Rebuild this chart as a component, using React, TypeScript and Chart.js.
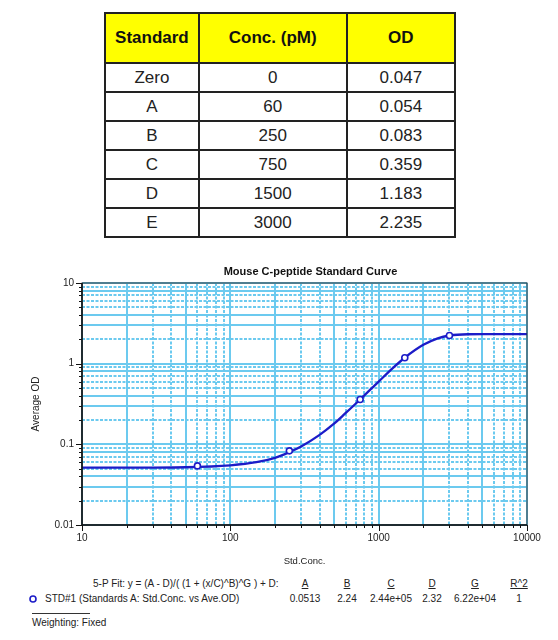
import React, { useEffect, useRef } from "react";
import { Chart, registerables } from "chart.js";

Chart.register(...registerables);

// ---------- Data ----------
const tableHeaders = ["Standard", "Conc. (pM)", "OD"];
const standards = ["Zero", "A", "B", "C", "D", "E"];
const concLabels = ["0", "60", "250", "750", "1500", "3000"];
const odLabels = ["0.047", "0.054", "0.083", "0.359", "1.183", "2.235"];
const concValues = [0, 60, 250, 750, 1500, 3000];
const odValues = [0.047, 0.054, 0.083, 0.359, 1.183, 2.235];

// fitted curve
const curveConc = [10, 20, 50, 100, 150, 200, 250, 300, 400, 500, 600, 750, 1000, 1250, 1500, 2000, 2500, 3000, 4000, 5000, 10000];
const curveOD = [0.0513, 0.0513, 0.052, 0.055, 0.06, 0.068, 0.08, 0.094, 0.131, 0.18, 0.245, 0.36, 0.6, 0.887, 1.185, 1.71, 2.06, 2.234, 2.315, 2.32, 2.32];

const xDecades = [10, 100, 1000];
const yDecades = [0.01, 0.1, 1];
const mantissas = [1, 2, 3, 4, 5, 6, 7, 8, 9];
const xMajorValues = [10, 100, 1000, 10000];
const xMajorLabels = ["10", "100", "1000", "10000"];
const yMajorValues = [0.01, 0.1, 1, 10];
const yMajorLabels = ["0.01", "0.1", "1", "10"];

const chartTitle = "Mouse C-peptide Standard Curve";
const xTitle = "Std.Conc.";
const yTitle = "Average OD";

const fitEquation = "5-P Fit: y = (A - D)/( (1 + (x/C)^B)^G ) + D:";
const fitSeriesName = "STD#1 (Standards A: Std.Conc. vs Ave.OD)";
const fitHeaders = ["A", "B", "C", "D", "G", "R^2"];
const fitValues = ["0.0513", "2.24", "2.44e+05", "2.32", "6.22e+04", "1"];
const weightingText = "Weighting: Fixed";

// ---------- Layout / style ----------
const FONT = '"Liberation Sans", Arial, Helvetica, sans-serif';
const GRID = "#6ccaef";
const CURVE = "#1c1cc8";
const fitColCenters = [305, 347, 391, 432, 475, 519];

const buildTicks = (decades: number[], last: number) => {
  const vals: number[] = [];
  decades.forEach((d) => mantissas.forEach((m) => vals.push(+(m * d).toPrecision(6))));
  vals.push(last);
  return vals;
};
const xTickValues = buildTicks(xDecades, 10000);
const yTickValues = buildTicks(yDecades, 10);

const mantissaOf = (v: number) => {
  const p = Math.pow(10, Math.floor(Math.log10(v) + 1e-9));
  return Math.round(v / p);
};
const isMajor = (v: number) => mantissaOf(v) === 1;

const xSolid = [1, 2, 5];
const ySolid = [1, 3, 4, 8];

const decorPlugin = {
  id: "decor",
  afterDraw(chart: any) {
    const { ctx, chartArea: a, scales } = chart;
    ctx.save();
    ctx.strokeStyle = "#111";
    ctx.lineWidth = 1;
    ctx.setLineDash([]);
    scales.x.ticks.forEach((t: any) => {
      const px = Math.round(scales.x.getPixelForValue(t.value)) + 0.5;
      const len = isMajor(t.value) ? 6 : 3;
      ctx.beginPath();
      ctx.moveTo(px, a.bottom);
      ctx.lineTo(px, a.bottom + len);
      ctx.stroke();
    });
    scales.y.ticks.forEach((t: any) => {
      const py = Math.round(scales.y.getPixelForValue(t.value)) + 0.5;
      const len = isMajor(t.value) ? 6 : 3;
      ctx.beginPath();
      ctx.moveTo(a.left - len, py);
      ctx.lineTo(a.left, py);
      ctx.stroke();
    });
    // frame
    ctx.strokeStyle = "#333";
    ctx.lineWidth = 1;
    ctx.strokeRect(a.left, a.top, a.right - a.left, a.bottom - a.top);
    ctx.strokeStyle = "#111";
    ctx.lineWidth = 1.5;
    ctx.beginPath();
    ctx.moveTo(a.left, a.top);
    ctx.lineTo(a.left, a.bottom);
    ctx.lineTo(a.right, a.bottom);
    ctx.stroke();
    // title
    ctx.font = `bold 11px ${FONT}`;
    ctx.fillStyle = "#111";
    ctx.textAlign = "center";
    ctx.textBaseline = "middle";
    ctx.fillText(chartTitle, (a.left + a.right) / 2 + 6, a.top - 11);
    ctx.restore();
  },
};

function StandardCurve() {
  const ref = useRef<HTMLCanvasElement | null>(null);
  useEffect(() => {
    if (!ref.current) return;
    const points = concValues
      .map((c, i) => ({ x: c, y: odValues[i] }))
      .filter((p) => p.x > 0);
    const curve = curveConc.map((c, i) => ({ x: c, y: curveOD[i] }));
    const chart = new Chart(ref.current, {
      type: "scatter",
      data: {
        datasets: [
          {
            label: "fit",
            data: curve,
            showLine: true,
            borderColor: CURVE,
            borderWidth: 2.3,
            pointRadius: 0,
            cubicInterpolationMode: "monotone",
            order: 2,
          } as any,
          {
            label: "STD#1",
            data: points,
            showLine: false,
            borderColor: CURVE,
            backgroundColor: "#ffffff",
            borderWidth: 1.6,
            pointRadius: 3,
            order: 1,
          },
        ],
      },
      options: {
        animation: false,
        responsive: false,
        layout: { padding: { left: 27, right: 31, top: 28, bottom: 0 } },
        plugins: {
          legend: { display: false },
          tooltip: { enabled: false },
          title: { display: false },
        },
        scales: {
          x: {
            type: "logarithmic",
            min: 10,
            max: 10000,
            afterBuildTicks: (s: any) => {
              s.ticks = xTickValues.map((v) => ({ value: v, major: isMajor(v) }));
            },
            afterFit: (s: any) => {
              s.height = 50;
            },
            ticks: {
              autoSkip: false,
              maxRotation: 0,
              padding: 7,
              color: "#222",
              font: { family: FONT, size: 10 },
              callback: (v: any) => {
                const i = xMajorValues.findIndex((m) => Math.abs(m - v) < 1e-9 * m);
                return i >= 0 ? xMajorLabels[i] : "";
              },
            },
            grid: { color: GRID, lineWidth: 2, drawTicks: false },
            border: {
              display: false,
              dash: (c: any) => (c.tick && !xSolid.includes(mantissaOf(c.tick.value)) ? [3, 1.5] : []),
            } as any,
            title: {
              display: true,
              text: xTitle,
              color: "#222",
              font: { family: FONT, size: 9.5 },
              padding: { top: 0, bottom: 8 },
            },
          },
          y: {
            type: "logarithmic",
            min: 0.01,
            max: 10,
            afterBuildTicks: (s: any) => {
              s.ticks = yTickValues.map((v) => ({ value: v, major: isMajor(v) }));
            },
            afterFit: (s: any) => {
              s.width = 55;
            },
            ticks: {
              autoSkip: false,
              padding: 8,
              color: "#222",
              font: { family: FONT, size: 10 },
              callback: (v: any) => {
                const i = yMajorValues.findIndex((m) => Math.abs(m - v) < 1e-6 * m);
                return i >= 0 ? yMajorLabels[i] : "";
              },
            },
            grid: { color: GRID, lineWidth: 2, drawTicks: false },
            border: {
              display: false,
              dash: (c: any) => (c.tick && !ySolid.includes(mantissaOf(c.tick.value)) ? [3, 1.5] : []),
            } as any,
            title: {
              display: true,
              text: yTitle,
              color: "#222",
              font: { family: FONT, size: 10 },
              padding: { top: 3, bottom: 0 },
            },
          },
        },
      } as any,
      plugins: [decorPlugin],
    });
    return () => chart.destroy();
  }, []);
  return <canvas ref={ref} width={558} height={320} style={{ display: "block" }} />;
}

export default function App() {
  const cell: React.CSSProperties = {
    border: "2px solid #222",
    textAlign: "center",
    padding: 0,
    height: 27,
  };
  const head: React.CSSProperties = {
    ...cell,
    background: "#ffff00",
    fontWeight: "bold",
    color: "#111",
    height: 48,
  };
  const txt: React.CSSProperties = {
    position: "absolute",
    fontFamily: FONT,
    fontSize: 10,
    lineHeight: "12px",
    color: "#222",
    whiteSpace: "nowrap",
  };
  return (
    <div style={{ position: "absolute", left: 0, top: 0, width: 558, height: 640, background: "#fff", overflow: "hidden" }}>
      <table
        style={{
          position: "absolute",
          left: 104,
          top: 12,
          width: 352,
          height: 225,
          borderCollapse: "collapse",
          fontFamily: FONT,
          fontSize: 17,
          color: "#222",
          border: "2.5px solid #111",
        }}
      >
        <colgroup>
          <col style={{ width: 94 }} />
          <col style={{ width: 149 }} />
          <col style={{ width: 109 }} />
        </colgroup>
        <thead>
          <tr>
            {tableHeaders.map((h) => (
              <th key={h} style={head}>
                {h}
              </th>
            ))}
          </tr>
        </thead>
        <tbody>
          {standards.map((s, i) => (
            <tr key={s}>
              <td style={cell}>{s}</td>
              <td style={cell}>{concLabels[i]}</td>
              <td style={cell}>{odLabels[i]}</td>
            </tr>
          ))}
        </tbody>
      </table>

      <div style={{ position: "absolute", left: 0, top: 255, width: 558, height: 320 }}>
        <StandardCurve />
      </div>

      <div style={{ ...txt, left: 93, top: 578 }}>{fitEquation}</div>
      {fitHeaders.map((h, i) => (
        <div
          key={h}
          style={{ ...txt, left: fitColCenters[i] - 30, width: 60, textAlign: "center", top: 578, textDecoration: "underline" }}
        >
          {h}
        </div>
      ))}
      <svg style={{ position: "absolute", left: 28, top: 594 }} width={10} height={10}>
        <circle cx={5} cy={5} r={3} fill="#fff" stroke={CURVE} strokeWidth={1.6} />
      </svg>
      <div style={{ ...txt, left: 45, top: 593 }}>{fitSeriesName}</div>
      {fitValues.map((v, i) => (
        <div key={i} style={{ ...txt, left: fitColCenters[i] - 30, width: 60, textAlign: "center", top: 593 }}>
          {v}
        </div>
      ))}
      <div style={{ position: "absolute", left: 32, top: 613, width: 58, height: 0, borderTop: "1px solid #333" }} />
      <div style={{ ...txt, left: 32, top: 617 }}>{weightingText}</div>
    </div>
  );
}
